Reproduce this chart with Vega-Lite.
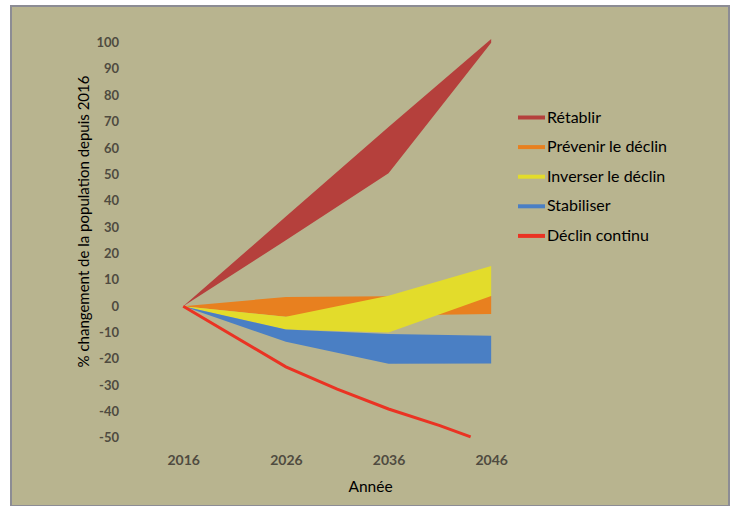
{
  "$schema": "https://vega.github.io/schema/vega-lite/v6.json",
  "autosize": {"type": "fit", "contains": "padding"},
  "width": 735,
  "height": 506,
  "padding": {"left": 11, "top": 6, "right": 6, "bottom": 0},
  "background": "white",
  "config": {
    "view": {"fill": "#b8b48f", "stroke": "#8c8c94", "strokeWidth": 2},
    "font": "Lato"
  },
  "data": {
    "values": [
      {"serie": "Rétablir", "annee": 2016, "bas": 0, "haut": 0},
      {"serie": "Rétablir", "annee": 2026, "bas": 25, "haut": 34},
      {"serie": "Rétablir", "annee": 2036, "bas": 50.4, "haut": 68},
      {"serie": "Rétablir", "annee": 2046, "bas": 100, "haut": 101.4},
      {"serie": "Prévenir le déclin", "annee": 2016, "bas": 0, "haut": 0},
      {"serie": "Prévenir le déclin", "annee": 2026, "bas": -4, "haut": 3.5},
      {"serie": "Prévenir le déclin", "annee": 2036, "bas": -3.5, "haut": 3.8},
      {"serie": "Prévenir le déclin", "annee": 2046, "bas": -3, "haut": 3.9},
      {"serie": "Inverser le déclin", "annee": 2016, "bas": 0, "haut": 0},
      {"serie": "Inverser le déclin", "annee": 2026, "bas": -8.8, "haut": -4},
      {"serie": "Inverser le déclin", "annee": 2036, "bas": -10, "haut": 4},
      {"serie": "Inverser le déclin", "annee": 2046, "bas": 3.9, "haut": 15.3},
      {"serie": "Stabiliser", "annee": 2016, "bas": 0, "haut": 0},
      {"serie": "Stabiliser", "annee": 2026, "bas": -13.5, "haut": -8.8},
      {"serie": "Stabiliser", "annee": 2036, "bas": -21.8, "haut": -10.5},
      {"serie": "Stabiliser", "annee": 2046, "bas": -21.7, "haut": -11.2},
      {"serie": "Déclin continu", "annee": 2016, "bas": 0},
      {"serie": "Déclin continu", "annee": 2026, "bas": -23},
      {"serie": "Déclin continu", "annee": 2031, "bas": -31.5},
      {"serie": "Déclin continu", "annee": 2036, "bas": -39},
      {"serie": "Déclin continu", "annee": 2041, "bas": -45.3},
      {"serie": "Déclin continu", "annee": 2044, "bas": -49.6}
    ]
  },
  "encoding": {
    "x": {
      "field": "annee",
      "type": "quantitative",
      "scale": {"domain": [1999.22, 2069.17], "nice": false, "zero": false},
      "axis": {
        "values": [2016, 2026, 2036, 2046],
        "format": "d",
        "offset": -56,
        "domain": false,
        "ticks": false,
        "grid": false,
        "labelFont": "Lato",
        "labelFontSize": 14,
        "labelFontWeight": "bold",
        "labelColor": "#4f4b40",
        "labelPadding": 3,
        "title": "Année",
        "titleFont": "Lato",
        "titleFontSize": 15.5,
        "titleFontWeight": "normal",
        "titleColor": "black",
        "titlePadding": 12
      }
    },
    "y": {
      "field": "bas",
      "type": "quantitative",
      "scale": {"domain": [-75.8, 113.9], "nice": false, "zero": false},
      "axis": {
        "values": [-50, -40, -30, -20, -10, 0, 10, 20, 30, 40, 50, 60, 70, 80, 90, 100],
        "labelExpr": "'' + datum.value",
        "offset": -111.5,
        "domain": false,
        "ticks": false,
        "grid": false,
        "labelFont": "Lato",
        "labelFontSize": 13,
        "labelFontWeight": "bold",
        "labelColor": "#4f4b40",
        "labelPadding": 4,
        "title": "% changement de la population depuis 2016",
        "titleFont": "Lato",
        "titleFontSize": 15,
        "titleFontWeight": "normal",
        "titleColor": "black",
        "titleAngle": 270,
        "titleBaseline": "middle",
        "titleAlign": "center",
        "titleX": -39.5,
        "titleY": 215
      }
    },
    "color": {
      "field": "serie",
      "type": "nominal",
      "scale": {
        "domain": ["Rétablir", "Prévenir le déclin", "Inverser le déclin", "Stabiliser", "Déclin continu"],
        "range": ["#b5403c", "#e8801f", "#e3dc2b", "#4a7fc4", "#ea3323"]
      },
      "legend": {
        "title": null,
        "orient": "none",
        "legendX": 505,
        "legendY": 96,
        "symbolType": "stroke",
        "symbolSize": 729,
        "symbolStrokeWidth": 4,
        "labelFont": "Lato",
        "labelFontSize": 16,
        "labelColor": "black",
        "labelOffset": 0,
        "rowPadding": 5.6,
        "encode": {
          "symbols": {
            "update": {
              "stroke": {"scale": "color", "field": "value"},
              "fill": {"value": "transparent"},
              "strokeWidth": {"value": 4}
            }
          }
        }
      }
    }
  },
  "layer": [
    {
      "transform": [{"filter": "datum.serie == 'Rétablir'"}],
      "mark": {"type": "area", "opacity": 1},
      "encoding": {"y2": {"field": "haut"}}
    },
    {
      "transform": [{"filter": "datum.serie == 'Prévenir le déclin'"}],
      "mark": {"type": "area", "opacity": 1},
      "encoding": {"y2": {"field": "haut"}}
    },
    {
      "transform": [{"filter": "datum.serie == 'Inverser le déclin'"}],
      "mark": {"type": "area", "opacity": 1},
      "encoding": {"y2": {"field": "haut"}}
    },
    {
      "transform": [{"filter": "datum.serie == 'Stabiliser'"}],
      "mark": {"type": "area", "opacity": 1},
      "encoding": {"y2": {"field": "haut"}}
    },
    {
      "transform": [{"filter": "datum.serie == 'Déclin continu'"}],
      "mark": {"type": "line", "strokeWidth": 3},
      "encoding": {}
    }
  ]
}
